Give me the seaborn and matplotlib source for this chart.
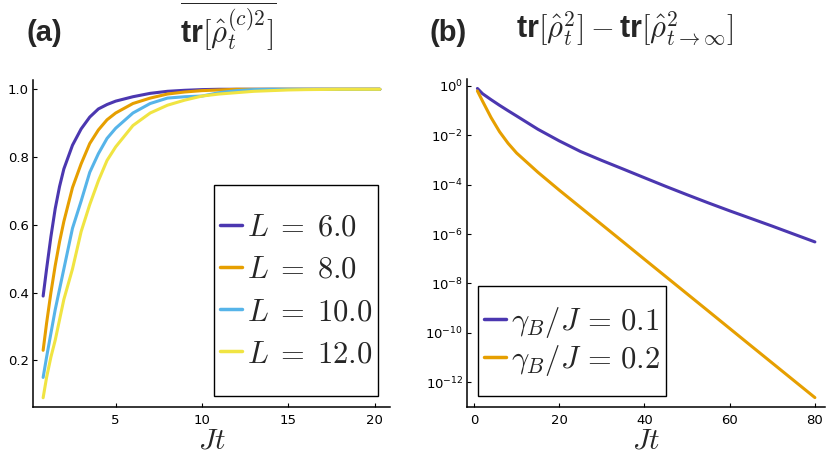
import numpy as np
import matplotlib
matplotlib.use("Agg")
import matplotlib.pyplot as plt
from matplotlib.ticker import FixedLocator, NullLocator, LogFormatterSciNotation
from matplotlib.offsetbox import VPacker, DrawingArea
import seaborn as sns

# panel (a): averaged purity of the conditional state
jt_a = [0.8, 1.0, 1.25, 1.5, 1.75, 2.0, 2.5, 3.0, 3.5, 4.0, 4.5, 5.0, 6.0, 7.0,
        8.0, 9.0, 10.0, 11.0, 12.0, 13.0, 14.0, 15.0, 16.0, 18.0, 20.3]
pur_L6 = [0.39, 0.47, 0.565, 0.648, 0.713, 0.765, 0.835, 0.883, 0.918, 0.942, 0.955, 0.965,
          0.978, 0.988, 0.994, 0.997, 0.999, 1.0, 1.0, 1.0, 1.0, 1.0, 1.0, 1.0, 1.0]
pur_L8 = [0.23, 0.31, 0.40, 0.48, 0.55, 0.61, 0.71, 0.78, 0.84, 0.88, 0.91, 0.93,
          0.958, 0.974, 0.986, 0.992, 0.996, 0.998, 1.0, 1.0, 1.0, 1.0, 1.0, 1.0, 1.0]
pur_L10 = [0.15, 0.21, 0.28, 0.35, 0.41, 0.47, 0.59, 0.67, 0.755, 0.81, 0.855, 0.885,
           0.93, 0.958, 0.974, 0.978, 0.98, 0.99, 0.996, 0.999, 1.0, 1.0, 1.0, 1.0, 1.0]
pur_L12 = [0.09, 0.15, 0.21, 0.26, 0.32, 0.38, 0.47, 0.58, 0.66, 0.73, 0.79, 0.83,
           0.893, 0.93, 0.953, 0.968, 0.98, 0.986, 0.99, 0.994, 0.996, 0.998, 0.999, 1.0, 1.0]
labels_a = [r"$L\;=\;6.0$", r"$L\;=\;8.0$", r"$L\;=\;10.0$", r"$L\;=\;12.0$"]

# panel (b): distance of purity from its stationary value
jt_b = [0.8, 2, 4, 6, 8, 10, 15, 20, 25, 30, 35, 40, 45, 50, 55, 60, 65, 70, 75, 80]
diff_g01 = [7.8e-1, 4.8e-1, 2.75e-1, 1.62e-1, 9.8e-2, 6.0e-2, 1.74e-2, 5.9e-3, 2.19e-3, 9.5e-4,
            4.27e-4, 1.9e-4, 8.5e-5, 3.9e-5, 1.82e-5, 8.7e-6, 4.27e-6, 2.09e-6, 1.0e-6, 4.8e-7]
diff_g02 = [6.2e-1, 2.4e-1, 5.2e-2, 1.38e-2, 4.7e-3, 1.9e-3, 3.16e-4, 6.0e-5, 1.2e-5, 2.4e-6,
            4.8e-7, 9.5e-8, 1.9e-8, 3.8e-9, 7.6e-10, 1.51e-10, 3.0e-11, 6.0e-12, 1.2e-12, 2.4e-13]
labels_b = [r"$\gamma_B/J\,=\,0.1$", r"$\gamma_B/J\,=\,0.2$"]

colors = ["#4B37B0", "#E69F00", "#56B4E9", "#F0E442"]

sns.set_theme(style="ticks")
plt.rcParams["font.family"] = ["DejaVu Sans"]
plt.rcParams["mathtext.fontset"] = "custom"
plt.rcParams["mathtext.rm"] = "cmr10"
plt.rcParams["mathtext.it"] = "cmmi10"
plt.rcParams["mathtext.bf"] = "Liberation Sans:bold"
plt.rcParams["mathtext.fallback"] = "cm"
plt.rcParams["axes.unicode_minus"] = True

fig = plt.figure(figsize=(8.3, 4.57), dpi=100)
ax1 = fig.add_axes([0.0398, 0.1094, 0.430, 0.7155])
ax2 = fig.add_axes([0.563, 0.1097, 0.431, 0.717])

for ys, lab, c in zip([pur_L6, pur_L8, pur_L10, pur_L12], labels_a, colors):
    sns.lineplot(x=jt_a, y=ys, ax=ax1, color=c, lw=2.2, label=lab)
for ys, lab, c in zip([diff_g01, diff_g02], labels_b, colors):
    sns.lineplot(x=jt_b, y=ys, ax=ax2, color=c, lw=2.2, label=lab)

ax2.set_yscale("log")
for ax in (ax1, ax2):
    ax.margins(x=0.03, y=0.03)
    sns.despine(ax=ax)
    for s in ("left", "bottom"):
        ax.spines[s].set_linewidth(1.1)
        ax.spines[s].set_color("black")
    ax.tick_params(direction="in", length=3, width=0.8, labelsize=9.5, colors="black")
    ax.tick_params(axis="x", pad=5)
    ax.tick_params(axis="y", pad=3)
    ax.set_xlabel(r"$Jt$", fontsize=21, labelpad=0)
    ax.set_ylabel("")

ax1.set_xticks([5, 10, 15, 20])
ax1.set_yticks([0.2, 0.4, 0.6, 0.8, 1.0])
ax2.set_xticks([0, 20, 40, 60, 80])
ax2.yaxis.set_major_locator(FixedLocator([1e0, 1e-2, 1e-4, 1e-6, 1e-8, 1e-10, 1e-12]))
ax2.yaxis.set_minor_locator(NullLocator())
ax2.yaxis.set_major_formatter(LogFormatterSciNotation())


def pad_legend(leg, top, bottom):
    # extra space above and below the entries, like the original legend boxes
    box = leg._legend_box
    title_box, entries = box.get_children()
    inner = VPacker(pad=0, sep=0, align="left",
                    children=[DrawingArea(0, top), entries, DrawingArea(0, bottom)])
    inner.set_figure(leg.figure)
    box._children = [title_box, inner]


leg_kw = dict(fontsize=22, frameon=True, fancybox=False, framealpha=1, edgecolor="black",
              handlelength=0.75, handletextpad=0.15, borderpad=0.18, borderaxespad=0)
leg1 = ax1.legend(loc="lower right", bbox_to_anchor=(0.966, 0.034), labelspacing=0.43, **leg_kw)
leg2 = ax2.legend(loc="lower left", bbox_to_anchor=(0.030, 0.034), labelspacing=0.1, **leg_kw)
pad_legend(leg1, 16, 16)
pad_legend(leg2, 9.5, 9)
for leg in (leg1, leg2):
    leg.get_frame().set_linewidth(1.0)
    for h in leg.get_lines():
        h.set_linewidth(2.5)

fig.text(26 / 830, 1 - 33 / 457, "(a)", fontsize=21, fontweight="bold",
         family="Liberation Sans", va="center", ha="left")
fig.text(228 / 830, 1 - 26 / 457, r"$\overline{\mathbf{tr}[\hat{\rho}_t^{(c)2}]}$",
         fontsize=22, va="center", ha="center")
fig.text(429 / 830, 1 - 33 / 457, "(b)", fontsize=21, fontweight="bold",
         family="Liberation Sans", va="center", ha="left")
fig.text(625 / 830, 1 - 29 / 457,
         r"$\mathbf{tr}[\hat{\rho}_t^2]-\mathbf{tr}[\hat{\rho}_{t\to\infty}^2]$",
         fontsize=22, va="center", ha="center")

fig.savefig("out.png", dpi=100)
